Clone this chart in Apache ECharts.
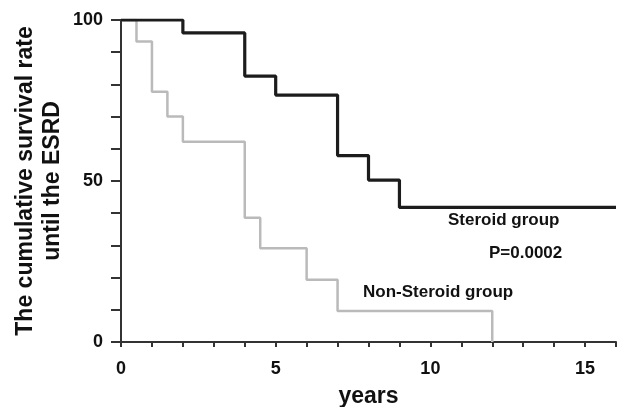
<!DOCTYPE html>
<html>
<head>
<meta charset="utf-8">
<script src="https://cdn.jsdelivr.net/npm/echarts@6/dist/echarts.min.js"></script>
<style>html,body{margin:0;padding:0;background:#fff}#c{width:628px;height:407px}</style>
</head>
<body>
<div id="c"></div>
<script>
// Kaplan-Meier steps: [years, survival %]
const steroidYears = [0, 2, 4, 5, 7, 8, 9, 16];
const steroidRate  = [100, 96, 82.6, 76.7, 57.9, 50.3, 41.8, 41.8];
const nonSteroidYears = [0, 0.5, 1, 1.5, 2, 4, 4.5, 6, 7, 12];
const nonSteroidRate  = [100, 93.3, 77.7, 70, 62.2, 38.6, 29.1, 19.3, 9.6, 0];
const xTickLabels = [0, 5, 10, 15];
const yTickLabels = [0, 50, 100];

const zip = (a, b) => a.map((v, i) => [v, b[i]]);
const font = 'Liberation Sans, Arial, Helvetica, sans-serif';

const chart = echarts.init(document.getElementById('c'));
chart.setOption({
  animation: false,
  grid: {left: 121, right: 12, top: 20, bottom: 65, containLabel: false, outerBoundsMode: 'none'},
  xAxis: {
    type: 'value', min: 0, max: 16, interval: 1,
    name: 'years', nameLocation: 'middle', nameGap: 43,
    nameTextStyle: {fontFamily: font, fontWeight: 'bold', fontSize: 23, color: '#111'},
    axisLine: {lineStyle: {color: '#333', width: 2}},
    axisTick: {show: true, length: 5, lineStyle: {color: '#333', width: 2}},
    axisLabel: {
      margin: 18, fontFamily: font, fontWeight: 'bold', fontSize: 18, color: '#111',
      formatter: v => xTickLabels.includes(v) ? String(v) : ''
    },
    splitLine: {show: false}
  },
  yAxis: {
    type: 'value', min: 0, max: 100, interval: 10,
    name: 'The cumulative survival rate\nuntil the ESRD',
    nameLocation: 'middle', nameGap: 55, nameRotate: 90, nameMoveOverlap: false,
    nameTextStyle: {fontFamily: font, fontWeight: 'bold', fontSize: 23, color: '#111', lineHeight: 27, align: 'center'},
    axisLine: {show: true, lineStyle: {color: '#333', width: 2}},
    axisTick: {show: true, length: 10, lineStyle: {color: '#333', width: 2}},
    axisLabel: {
      margin: 18, fontFamily: font, fontWeight: 'bold', fontSize: 18, color: '#111',
      formatter: v => yTickLabels.includes(v) ? String(v) : ''
    },
    splitLine: {show: false}
  },
  series: [
    {
      name: 'Non-Steroid group', type: 'line', step: 'end', symbol: 'none',
      data: zip(nonSteroidYears, nonSteroidRate),
      lineStyle: {color: '#bababa', width: 2.5}, z: 2
    },
    {
      name: 'Steroid group', type: 'line', step: 'end', symbol: 'none',
      data: zip(steroidYears, steroidRate),
      lineStyle: {color: '#1c1c1c', width: 3.2}, z: 3
    }
  ],
  graphic: [
    {type: 'text', left: 448, top: 212, style: {text: 'Steroid group', font: 'bold 17px ' + font, fill: '#111'}},
    {type: 'text', left: 489, top: 245, style: {text: 'P=0.0002', font: 'bold 17px ' + font, fill: '#111'}},
    {type: 'text', left: 363, top: 284, style: {text: 'Non-Steroid group', font: 'bold 17px ' + font, fill: '#111'}}
  ]
});
</script>
</body>
</html>
